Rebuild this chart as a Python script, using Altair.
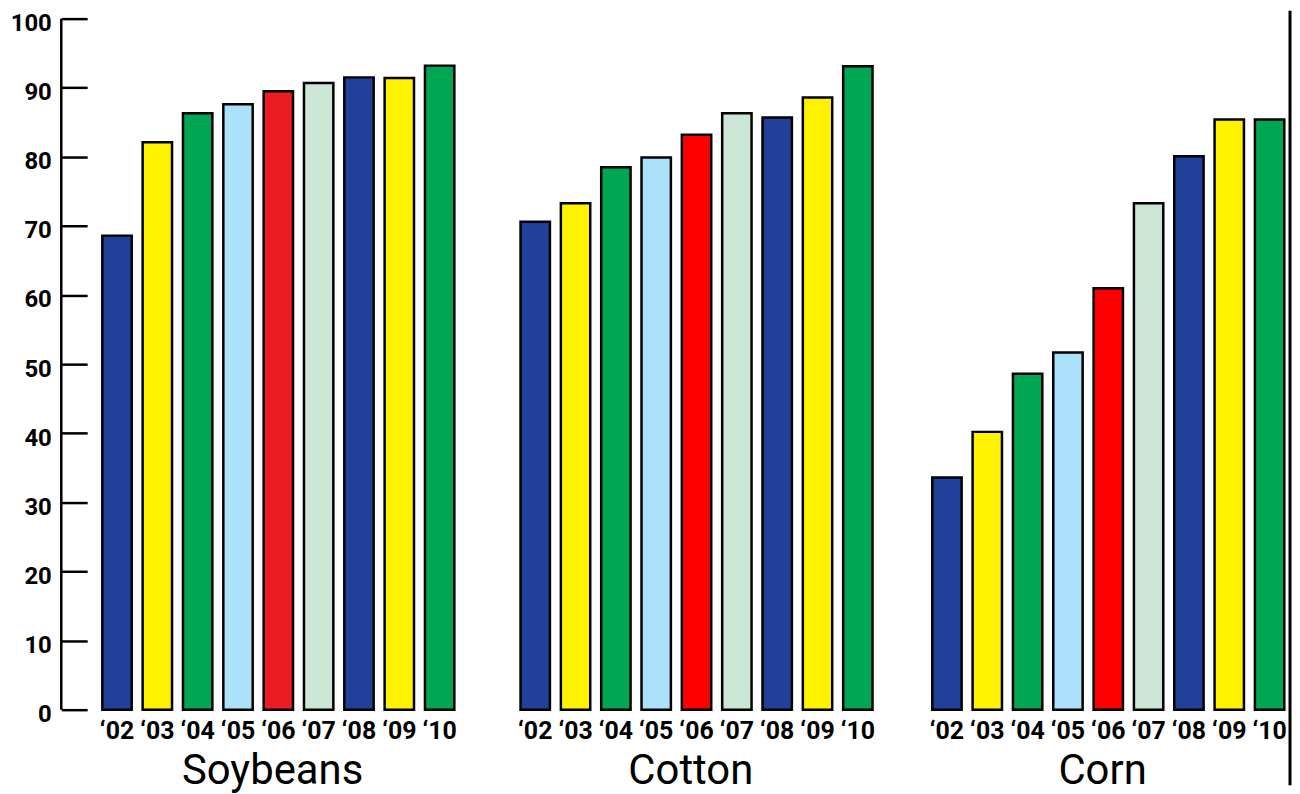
import altair as alt
import pandas as pd

groups = ["Soybeans", "Cotton", "Corn"]
years = ["‘02", "‘03", "‘04", "‘05", "‘06", "‘07", "‘08", "‘09", "‘10"]
soybeans = [68.6, 82.1, 86.3, 87.6, 89.5, 90.7, 91.5, 91.4, 93.2]
cotton = [70.6, 73.3, 78.5, 79.9, 83.2, 86.3, 85.7, 88.6, 93.1]
corn = [33.6, 40.2, 48.6, 51.7, 61.0, 73.3, 80.1, 85.4, 85.4]
y_ticks = [0, 10, 20, 30, 40, 50, 60, 70, 80, 90, 100]

tone_keys = years + ["‘06 Soybeans"]
tone_colors = ["#21409a", "#fff200", "#00a651", "#abe1fa", "#ff0000",
               "#cce6d6", "#21409a", "#fff200", "#00a651", "#ed1c24"]

series = {"Soybeans": soybeans, "Cotton": cotton, "Corn": corn}
rows = []
for g in groups:
    for yr, v in zip(years, series[g]):
        tone = "‘06 Soybeans" if (g == "Soybeans" and yr == "‘06") else yr
        rows.append({"group": g, "year": yr, "value": v, "tone": tone})
df = pd.DataFrame(rows)

FONT = "Roboto"
W, H = 371.5, 694

yscale = alt.Scale(domain=[0, 100], nice=False, zero=True)
yaxis_first = alt.Axis(values=y_ticks, tickSize=26, tickWidth=2.5, tickColor="black",
                       domain=False, grid=False, title=None, labelPadding=10,
                       labelFont=FONT, labelFontSize=24, labelFontWeight="bold",
                       labelColor="black", labelOffset=5)


def panel(name, first=False, last=False):
    d = df[df.group == name]
    x = alt.X(
        "year:N", sort=years, title=name,
        scale=alt.Scale(paddingInner=0.2716, paddingOuter=0.222, align=0.847),
        axis=alt.Axis(labelAngle=0, ticks=False, domain=False, labelPadding=9,
                      labelFont=FONT, labelFontSize=25, labelFontWeight="bold",
                      labelColor="black", titleFont=FONT, titleFontSize=42,
                      titleFontWeight="normal", titleColor="black", titlePadding=7),
    )
    yaxis = yaxis_first if first else None
    bars = alt.Chart(d).mark_bar(stroke="black", strokeWidth=2.5).encode(
        x=x,
        y=alt.Y("value:Q", scale=yscale, axis=yaxis),
        color=alt.Color("tone:N", scale=alt.Scale(domain=tone_keys, range=tone_colors), legend=None),
    )
    layers = [bars]
    one = pd.DataFrame({"lo": [0], "hi": [100]})
    if first:
        layers.append(
            alt.Chart(one).mark_rule(color="black", strokeWidth=2.5).encode(
                x=alt.value(-26),
                y=alt.Y("lo:Q", scale=yscale, axis=yaxis_first),
                y2="hi:Q",
            )
        )
    if last:
        layers.append(
            alt.Chart(one).mark_rule(color="black", strokeWidth=3).encode(
                x=alt.value(W + 3), y=alt.value(-8), y2=alt.value(H + 76)
            )
        )
    return alt.layer(*layers).properties(width=W, height=H)


chart = alt.hconcat(
    panel("Soybeans", first=True),
    alt.hconcat(panel("Cotton"), panel("Corn", last=True), spacing=41.5),
    spacing=48,
).properties(
    padding={"left": 1.5, "top": -1, "right": 0, "bottom": 0},
    background="white",
).configure_view(strokeWidth=0)

chart.save("out.html", embed_options={"renderer": "svg", "actions": False})
